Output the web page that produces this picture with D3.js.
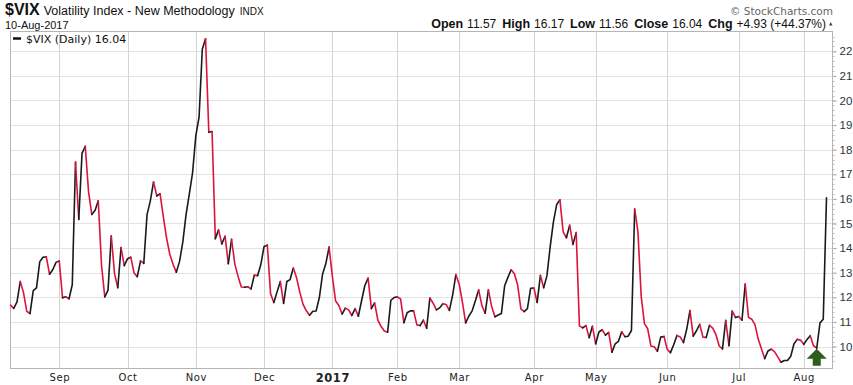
<!DOCTYPE html>
<html>
<head>
<meta charset="utf-8">
<script src="https://cdn.jsdelivr.net/npm/d3@7"></script>
<style>
  html, body { margin: 0; padding: 0; background: #fff; }
  svg { display: block; }
</style>
</head>
<body>
<svg id="chart" width="853" height="385"></svg>
<script>
// ---------------- DATA ----------------
const startDate = "2016-08-11";
const endDate = "2017-08-10";
const holidays = ["2016-09-05","2016-11-24","2016-12-26","2017-01-02","2017-01-16",
                  "2017-02-20","2017-04-14","2017-05-29","2017-07-04"];

// Daily closes of $VIX, one per trading day, Aug-11-2016 .. Aug-10-2017
const vixAug16 = [11.68,11.55,11.81,12.64,12.19,11.43,11.34,12.27,12.38,13.45,13.63,13.65,12.94,13.12,13.42];
const vixSep16 = [13.48,11.98,12.02,11.94,12.51,17.50,15.16,17.85,18.14,16.30,15.37,15.53,15.92,13.30,12.02,12.29,14.50,12.96,12.39,14.02,13.29];
const vixOct16 = [13.57,13.63,12.99,12.84,13.48,13.38,15.36,15.91,16.69,16.12,16.21,15.28,14.41,13.75,13.34,13.02,13.46,14.24,15.36,16.19,17.06];
const vixNov16 = [18.56,19.32,22.08,22.51,18.71,18.74,14.38,14.74,14.17,14.48,13.37,14.36,13.35,12.85,12.42,12.41,12.43,12.34,12.90,12.88,13.33];
const vixDec16 = [14.07,14.12,12.14,11.79,12.22,12.64,11.75,12.64,12.72,13.19,12.79,12.20,11.71,11.45,11.27,11.43,11.44,11.99,12.95,13.37,14.04];
const vixJan17 = [12.85,11.85,11.67,11.32,11.56,11.49,11.26,11.54,11.23,11.87,12.48,12.78,11.54,11.77,11.07,10.81,10.63,10.58,11.88,11.99];
const vixFeb17 = [12.02,11.93,10.97,11.37,11.45,11.45,10.88,10.85,11.07,10.74,11.97,11.76,11.49,11.57,11.74,11.71,11.47,12.09,12.92];
const vixMar17 = [12.54,11.81,10.96,11.24,11.45,11.86,12.30,11.66,11.35,12.30,11.63,11.21,11.28,11.34,12.47,12.81,13.12,12.96,12.50,11.53,11.42,11.54,12.37];
const vixApr17 = [12.38,11.79,12.89,12.39,12.87,14.05,15.07,15.77,15.96,14.66,14.42,14.93,14.15,14.63,10.84,10.76,10.85,10.36,10.82];
const vixMay17 = [10.11,10.59,10.68,10.46,10.57,9.77,10.11,10.21,10.60,10.40,10.42,10.65,15.59,14.66,12.04,10.93,10.72,10.02,9.99,9.81,10.38,10.41];
const vixJun17 = [9.89,9.75,10.07,10.45,10.39,10.16,10.70,11.46,10.42,10.64,10.90,10.38,10.37,10.86,10.75,10.48,10.02,9.90,11.06,10.03,11.44,11.18];
const vixJul17 = [11.22,11.07,12.54,11.19,11.11,10.89,10.30,9.90,9.51,9.82,9.89,9.79,9.58,9.36,9.43,9.43,9.60,10.11,10.29,10.26];
const vixAug17 = [10.09,10.28,10.44,10.03,9.93,10.96,11.11,16.04];

const yTicks = [10,11,12,13,14,15,16,17,18,19,20,21,22];
const monthNames = ["Jan","Feb","Mar","Apr","May","Jun","Jul","Aug","Sep","Oct","Nov","Dec"];
const signalDate = "2017-08-07";   // green arrow

const titleSymbol = "$VIX";
const titleName = "Volatility Index - New Methodology";
const titleExchange = "INDX";
const titleDate = "10-Aug-2017";
const quoteLabels = ["Open","High","Low","Close","Chg"];
const quoteValues = ["11.57","16.17","11.56","16.04","+4.93 (+44.37%)"];
const legendText = "$VIX (Daily) 16.04";

// ---------------- BUILD ----------------
const values = [].concat(vixAug16,vixSep16,vixOct16,vixNov16,vixDec16,vixJan17,
                         vixFeb17,vixMar17,vixApr17,vixMay17,vixJun17,vixJul17,vixAug17);
const fmt = d3.utcFormat("%Y-%m-%d");
const dates = d3.utcDay.range(new Date(startDate+"T00:00Z"), d3.utcDay.offset(new Date(endDate+"T00:00Z"),1))
  .filter(d => d.getUTCDay() !== 0 && d.getUTCDay() !== 6 && !holidays.includes(fmt(d)))
  .map(fmt);
const data = dates.map((d,i) => ({date: d, value: values[i]}));

const svg = d3.select("#chart");
const plot = {left: 10, right: 832, top: 31, bottom: 368};

const x = d3.scalePoint().domain(dates).range([10.5, 826.5]);
const y = d3.scaleLinear().domain([10, 22]).range([346.5, 51.3]);

// month starts (first trading day each month)
const monthStarts = dates.filter((d,i) => i > 0 && d.slice(0,7) !== dates[i-1].slice(0,7));

// gridlines
const grid = svg.append("g");
grid.selectAll("line.h").data(yTicks).join("line")
  .attr("x1", plot.left).attr("x2", plot.right)
  .attr("y1", d => Math.round(y(d))+0.5).attr("y2", d => Math.round(y(d))+0.5)
  .attr("stroke", "#e2e2e2").attr("stroke-width", 1);
grid.selectAll("line.v").data(monthStarts).join("line")
  .attr("x1", d => Math.round(x(d))+0.5).attr("x2", d => Math.round(x(d))+0.5)
  .attr("y1", plot.top).attr("y2", plot.bottom)
  .attr("stroke", "#d4d4d4").attr("stroke-width", 1);

// frame
svg.append("rect")
  .attr("x", plot.left+0.5).attr("y", plot.top+0.5)
  .attr("width", plot.right-plot.left).attr("height", plot.bottom-plot.top)
  .attr("fill", "none").attr("stroke", "#b5b5b5");

// right axis
const yAxis = d3.axisRight(y).tickValues(yTicks).tickSize(4).tickPadding(3).tickFormat(d3.format("d"));
const gy = svg.append("g").attr("transform", `translate(${plot.right+0.5},0)`).call(yAxis);
gy.select(".domain").remove();
gy.selectAll(".tick line").attr("stroke", "#999");
gy.selectAll(".tick text").attr("font-family", "Liberation Sans, Arial, sans-serif")
  .attr("font-size", 11.5).attr("fill", "#333");
// minor ticks
const minor = d3.range(9.4, 22.61, 0.2).filter(v => y(v) > plot.top+2 && y(v) < plot.bottom-1);
svg.append("g").selectAll("line").data(minor).join("line")
  .attr("x1", plot.right+0.5).attr("x2", plot.right+2.5)
  .attr("y1", d => Math.round(y(d))+0.5).attr("y2", d => Math.round(y(d))+0.5)
  .attr("stroke", "#bbb");

// bottom axis
const xAxis = d3.axisBottom(x).tickValues(monthStarts).tickSize(0).tickPadding(6)
  .tickFormat(d => d.slice(5,7) === "01" ? d.slice(0,4) : monthNames[+d.slice(5,7)-1]);
const gx = svg.append("g").attr("transform", `translate(0,${plot.bottom})`).call(xAxis);
gx.select(".domain").remove();
gx.selectAll(".tick text")
  .attr("font-family", "DejaVu Sans, Verdana, sans-serif")
  .attr("letter-spacing", 0.6).attr("fill", "#222")
  .attr("font-weight", d => d.slice(5,7) === "01" ? "bold" : "normal")
  .attr("font-size", d => d.slice(5,7) === "01" ? 11.5 : 10);

// colour-coded line: black when rising, red when falling
const runs = [];
for (let i = 1; i < data.length; i++) {
  const up = data[i].value >= data[i-1].value;
  const last = runs[runs.length-1];
  if (last && last.up === up) last.pts.push(data[i]);
  else runs.push({up, pts: [data[i-1], data[i]]});
}
const line = d3.line().x(d => x(d.date)).y(d => y(d.value));
svg.append("g").selectAll("path").data(runs).join("path")
  .attr("d", r => line(r.pts))
  .attr("fill", "none")
  .attr("stroke", r => r.up ? "#1a1a1a" : "#dc143c")
  .attr("stroke-width", 1.6)
  .attr("stroke-linejoin", "round").attr("stroke-linecap", "round");

// green arrow
const sig = data.find(d => d.date === signalDate);
const ax = x(sig.date), ay = y(sig.value) + 0.5;
svg.append("path")
  .attr("d", `M${ax},${ay} L${ax+10},${ay+10} L${ax+4},${ay+10} L${ax+4},${ay+17} L${ax-4},${ay+17} L${ax-4},${ay+10} L${ax-10},${ay+10} Z`)
  .attr("fill", "#2d5e1e");

// legend
svg.append("line").attr("x1", 13).attr("x2", 21).attr("y1", 38.5).attr("y2", 38.5)
  .attr("stroke", "#111").attr("stroke-width", 2.5);
svg.append("text").attr("x", 26).attr("y", 42.5)
  .attr("font-family", "DejaVu Sans, Verdana, sans-serif").attr("font-size", 11)
  .attr("fill", "#111").text(legendText);

// header
const title = svg.append("text").attr("x", 5).attr("y", 14.5).attr("fill", "#111")
  .attr("font-family", "Liberation Sans, Arial, sans-serif");
title.append("tspan").attr("font-weight", "bold").attr("font-size", 16).text(titleSymbol);
title.append("tspan").attr("dx", 4).attr("font-size", 12.5).text(titleName);
title.append("tspan").attr("dx", 5).attr("font-size", 10).text(titleExchange);

svg.append("text").attr("x", 5).attr("y", 28.5)
  .attr("font-family", "Liberation Sans, Arial, sans-serif").attr("font-size", 11)
  .attr("fill", "#111").text(titleDate);

svg.append("text").attr("x", 833).attr("y", 14.5).attr("text-anchor", "end")
  .attr("font-family", "DejaVu Sans, Verdana, sans-serif").attr("font-size", 10.5)
  .attr("fill", "#666").text("\u00A9 StockCharts.com");

const quote = svg.append("text").attr("x", 826).attr("y", 27.5).attr("text-anchor", "end")
  .attr("font-family", "Liberation Sans, Arial, sans-serif").attr("fill", "#111");
quoteLabels.forEach((l, i) => {
  quote.append("tspan").attr("dx", i ? 6 : 0).attr("font-weight", "bold").attr("font-size", 12.5).text(l);
  quote.append("tspan").attr("dx", 4).attr("font-size", 12).text(quoteValues[i]);
});
svg.append("path").attr("d", "M829,25.5 L832.5,25.5 L830.75,22 Z").attr("fill", "#444");
</script>
</body>
</html>
